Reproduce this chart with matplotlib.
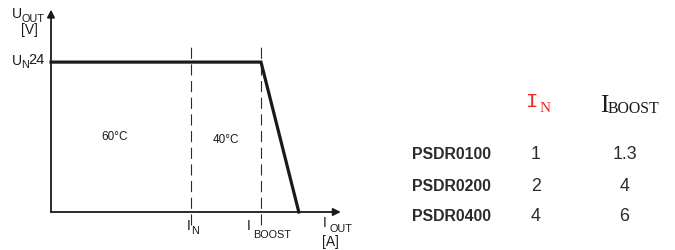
import matplotlib

matplotlib.use("Agg")
import matplotlib.pyplot as plt

INK = "#1a1a1a"
SOFT = "#2b2b2b"
RED = "#ee2a24"

# ---- data -------------------------------------------------------------------
U_N = 24
curve_i = [0.0, 3.0, 3.54]       # output current (arbitrary units, I_N = 2)
curve_u = [U_N, U_N, 0.0]        # output voltage [V]
marker_i = [2.0, 3.0]            # I_N, I_BOOST
zone_labels = ["60°C", "40°C"]

products = ["PSDR0100", "PSDR0200", "PSDR0400"]
i_nominal = [1, 2, 4]
i_boost = [1.3, 4, 6]

W, H = 675, 250
fig = plt.figure(figsize=(W / 100, H / 100), dpi=100)


def fx(x):
    return x / W


def fy(y):
    return 1 - y / H


def label(x, y, s, size, **kw):
    kw.setdefault("family", "Liberation Sans")
    kw.setdefault("color", INK)
    fig.text(fx(x), fy(y), s, fontsize=size, va="baseline", **kw)


# ---- derating curve ---------------------------------------------------------
ax = fig.add_axes([fx(51), fy(212), 294 / W, 203 / H])
ax.set_xlim(0, 4.2)
ax.set_ylim(0, 32.5)
ax.axis("off")

arrow = dict(arrowstyle="-|>", color=INK, lw=1.3, mutation_scale=11,
             shrinkA=0, shrinkB=0)
ax.annotate("", xy=(4.14, 0), xytext=(0, 0), arrowprops=arrow,
            annotation_clip=False)
ax.annotate("", xy=(0, 32.4), xytext=(0, 0), arrowprops=arrow,
            annotation_clip=False)

ax.vlines(marker_i, -2.1, 26.7, colors=SOFT, lw=0.8, linestyles=(0, (10, 5)),
          clip_on=False)
ax.plot(curve_i, curve_u, color=INK, lw=2.3, solid_joinstyle="miter",
        clip_on=False)

# axis labels
label(12, 18, "U", 10)
label(21, 21.5, "OUT", 7.8)
label(21, 34, "[V]", 10)
label(12, 65, "U", 10)
label(21.5, 68, "N", 7.8)
label(28, 63.5, f"{U_N}", 10.5)

label(115, 140, zone_labels[0], 8.5, ha="center")
label(226, 143, zone_labels[1], 8.5, ha="center")

label(187, 229.5, "I", 10)
label(191, 233.5, "N", 7.8)
label(246.5, 230, "I", 10)
label(253, 237.5, "BOOST", 7.8)
label(322.5, 227, "I", 10)
label(330, 232.5, "OUT", 7.8)
label(322, 246, "[A]", 10)

# ---- table ------------------------------------------------------------------
label(532, 107, "I", 15, family="Liberation Mono", color=RED, ha="center")
label(539.5, 112, "N", 11, family="Liberation Serif", color=RED)
label(600.5, 112, "I", 18, family="Liberation Serif")
label(608, 113, "BOOST", 11.4, family="Liberation Serif")

baselines = [159, 191, 221]
for name, i_n, i_b, yb in zip(products, i_nominal, i_boost, baselines):
    label(412, yb, name, 11.4, weight="bold", color=SOFT)
    label(536, yb, f"{i_n:g}", 12.8, ha="center", color=SOFT)
    label(624.5, yb, f"{i_b:g}", 12.8, ha="center", color=SOFT)

fig.savefig("out.png", dpi=100)
